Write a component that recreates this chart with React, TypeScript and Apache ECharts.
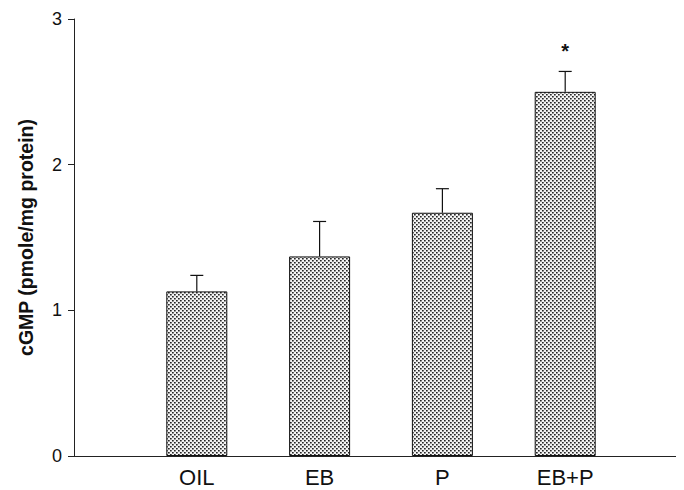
import React, { useEffect, useRef } from "react";
import * as echarts from "echarts";

const categories = ["OIL", "EB", "P", "EB+P"];
const means = [1.13, 1.37, 1.67, 2.5];
const sems = [0.11, 0.24, 0.165, 0.14];
const significant = [false, false, false, true];
const yTicks = [0, 1, 2, 3];

function makePattern(): string {
  const c = document.createElement("canvas");
  c.width = 4;
  c.height = 4;
  const ctx = c.getContext("2d")!;
  ctx.fillStyle = "#f4f4f4";
  ctx.fillRect(0, 0, 4, 4);
  ctx.fillStyle = "#262626";
  ctx.fillRect(0, 0, 1.7, 1.5);
  ctx.fillRect(2, 2, 1.7, 1.5);
  return c.toDataURL();
}

export default function App() {
  const ref = useRef<HTMLDivElement>(null);
  useEffect(() => {
    if (!ref.current) return;
    const chart = echarts.init(ref.current, null, { renderer: "svg" });
    const pattern = { image: makePattern(), repeat: "repeat" };
    const barData = means.map((v, i) => [i + 1, v]);
    const errData = means.map((v, i) => [i + 1, v, v + sems[i], significant[i] ? 1 : 0]);
    chart.setOption({
      animation: false,
      backgroundColor: "#fff",
      grid: { left: 64, right: 4, top: 11, bottom: 42 },
      xAxis: {
        type: "value",
        min: 0,
        max: categories.length + 1,
        interval: 1,
        splitLine: { show: false },
        axisTick: { show: false },
        axisLine: { show: true, lineStyle: { color: "#222", width: 1 } },
        axisLabel: {
          fontFamily: "Liberation Sans, Arial, sans-serif",
          fontSize: 22,
          color: "#111",
          margin: 10,
          formatter: (v: number) => categories[v - 1] ?? "",
        },
      },
      yAxis: {
        type: "value",
        min: yTicks[0],
        max: yTicks[yTicks.length - 1],
        interval: 1,
        splitLine: { show: false },
        axisLine: { show: true, lineStyle: { color: "#222", width: 1 } },
        axisTick: { show: true, length: 6, lineStyle: { color: "#222" } },
        axisLabel: {
          fontFamily: "Liberation Sans, Arial, sans-serif",
          fontSize: 18,
          color: "#111",
          margin: 12,
        },
        name: "cGMP (pmole/mg protein)",
        nameLocation: "middle",
        nameRotate: 90,
        nameGap: 38,
        nameTextStyle: {
          fontFamily: "Liberation Sans, Arial, sans-serif",
          fontSize: 19.5,
          fontWeight: "bold",
          color: "#111",
        },
      },
      series: [
        {
          type: "bar",
          data: barData,
          barWidth: 61,
          itemStyle: { color: pattern, borderColor: "#111", borderWidth: 1 },
        },
        {
          type: "custom",
          data: errData,
          z: 10,
          renderItem: (params: any, api: any) => {
            const x = api.value(0);
            const base = api.coord([x, api.value(1)]);
            const top = api.coord([x, api.value(2)]);
            const children: any[] = [
              { type: "line", shape: { x1: base[0], y1: base[1], x2: top[0], y2: top[1] }, style: { stroke: "#111", lineWidth: 1.2 } },
              { type: "line", shape: { x1: top[0] - 6.5, y1: top[1], x2: top[0] + 6.5, y2: top[1] }, style: { stroke: "#111", lineWidth: 1.2 } },
            ];
            if (api.value(3) === 1) {
              children.push({
                type: "text",
                style: {
                  text: "*",
                  x: top[0],
                  y: top[1] - 20,
                  align: "center",
                  verticalAlign: "middle",
                  fontSize: 20,
                  fontWeight: "bold",
                  fontFamily: "Liberation Sans, Arial, sans-serif",
                  fill: "#111",
                },
              });
            }
            return { type: "group", children };
          },
        },
      ],
    });
    return () => chart.dispose();
  }, []);
  return <div ref={ref} style={{ width: 684, height: 490 }} />;
}
